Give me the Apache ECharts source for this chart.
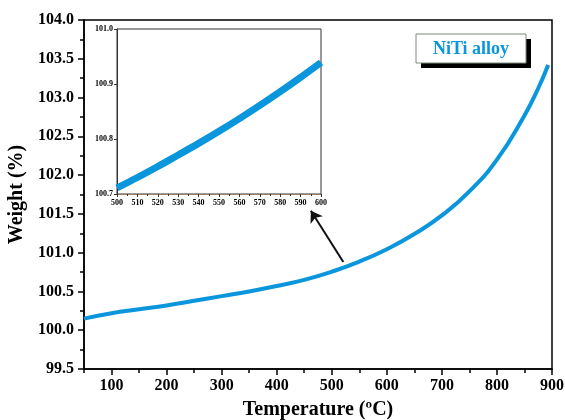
<!DOCTYPE html>
<html lang="en">
<head>
    <meta charset="UTF-8">
    <title>NiTi alloy TGA</title>
    <script src="https://cdn.jsdelivr.net/npm/echarts@6/dist/echarts.min.js"></script>
</head>
<body style="margin:0;">
<div id="tga" style="width: 565px;height: 420px;"></div>
<script>
    // main curve
    var temps = [50, 100, 150, 200, 250, 300, 350, 400, 450, 500, 550, 600, 650, 700, 750, 800, 850, 875, 893];
    var weights = [100.15, 100.22, 100.27, 100.32, 100.38, 100.44, 100.50, 100.57, 100.65, 100.755, 100.885, 101.045, 101.24, 101.48, 101.79, 102.20, 102.77, 103.12, 103.42];
    // inset (zoom of 500-600 ºC)
    var insetTemps = [500, 510, 520, 530, 540, 550, 560, 570, 580, 590, 600];
    var insetWeights = [100.711, 100.730, 100.750, 100.771, 100.792, 100.814, 100.837, 100.861, 100.886, 100.912, 100.939];
    var xLabels = [100, 200, 300, 400, 500, 600, 700, 800, 900];
    var xMinorTicks = [50, 150, 250, 350, 450, 550, 650, 750, 850];
    // arrow from curve to inset [temp, weight]
    var arrowFrom = [521, 100.88];
    var arrowTo = [462, 101.54];

    var serif = '"Liberation Serif", "Times New Roman", serif';
    var blue = '#0a96dc';

    function pairs(xs, ys) {
        return xs.map(function (x, i) { return [x, ys[i]]; });
    }

    var myChart = echarts.init(document.getElementById('tga'));
    var option = {
        backgroundColor: '#fff',
        animation: false,
        // "NiTi alloy" label box with hard black shadow
        graphic: [{
            type: 'rect',
            shape: { x: 421, y: 39, width: 110, height: 29 },
            style: { fill: '#000' },
            z: 10
        }, {
            type: 'rect',
            shape: { x: 416, y: 34, width: 110, height: 29 },
            style: { fill: '#fff', stroke: '#7a8a7a', lineWidth: 1 },
            z: 11
        }, {
            type: 'text',
            x: 471, y: 49,
            style: {
                text: 'NiTi alloy',
                fill: blue,
                font: 'bold 18px ' + serif,
                align: 'center',
                verticalAlign: 'middle'
            },
            z: 12
        }],
        grid: [{
            left: 84, top: 20, right: 13, bottom: 51,
            outerBoundsMode: 'none',
            show: true, borderColor: '#000', borderWidth: 1.5
        }, {
            left: 117, top: 29, width: 204, height: 165,
            outerBoundsMode: 'none',
            show: true, backgroundColor: '#fff', borderColor: '#333', borderWidth: 1
        }],
        xAxis: [{
            gridIndex: 0,
            type: 'value',
            min: 50, max: 900,
            name: 'Temperature (ºC)',
            nameLocation: 'middle',
            nameGap: 31,
            nameTextStyle: { fontFamily: serif, fontWeight: 'bold', fontSize: 20, color: '#000' },
            axisLine: { lineStyle: { color: '#000', width: 1.5 } },
            axisTick: { customValues: xLabels, length: 6, lineStyle: { color: '#000', width: 1.5 } },
            axisLabel: {
                customValues: xLabels,
                margin: 9,
                fontFamily: serif, fontWeight: 'bold', fontSize: 16, color: '#000'
            },
            splitLine: { show: false }
        }, {
            // minor ticks of the main x axis
            gridIndex: 0,
            type: 'value',
            min: 50, max: 900,
            position: 'bottom',
            axisLine: { show: false },
            axisTick: { customValues: xMinorTicks, length: 4, lineStyle: { color: '#000', width: 1.5 } },
            axisLabel: { show: false },
            splitLine: { show: false }
        }, {
            gridIndex: 1,
            type: 'value',
            min: 500, max: 600, interval: 10,
            axisLine: { lineStyle: { color: '#a07e62', width: 1 } },
            axisTick: { length: 3, lineStyle: { color: '#333' } },
            minorTick: { show: true, splitNumber: 2, length: 2, lineStyle: { color: '#333' } },
            axisLabel: {
                margin: 5,
                fontFamily: serif, fontWeight: 'bold', fontSize: 8, color: '#000'
            },
            splitLine: { show: false }
        }],
        yAxis: [{
            gridIndex: 0,
            type: 'value',
            min: 99.5, max: 104, interval: 0.5,
            name: 'Weight (%)',
            nameLocation: 'middle',
            nameGap: 55,
            nameTextStyle: { fontFamily: serif, fontWeight: 'bold', fontSize: 20, color: '#000' },
            axisLine: { lineStyle: { color: '#000', width: 1.5 } },
            axisTick: { length: 6, lineStyle: { color: '#000', width: 1.5 } },
            minorTick: { show: true, splitNumber: 2, length: 4, lineStyle: { color: '#000', width: 1.5 } },
            axisLabel: {
                margin: 10,
                formatter: function (v) { return v.toFixed(1); },
                fontFamily: serif, fontWeight: 'bold', fontSize: 16, color: '#000'
            },
            splitLine: { show: false }
        }, {
            gridIndex: 1,
            type: 'value',
            min: 100.7, max: 101.0, interval: 0.1,
            axisLine: { lineStyle: { color: '#333', width: 1 } },
            axisTick: { length: 3, lineStyle: { color: '#333' } },
            axisLabel: {
                margin: 4,
                formatter: function (v) { return v.toFixed(1); },
                fontFamily: serif, fontWeight: 'bold', fontSize: 8, color: '#000'
            },
            splitLine: { show: false }
        }],
        series: [{
            name: 'NiTi alloy',
            type: 'line',
            xAxisIndex: 0,
            yAxisIndex: 0,
            smooth: 0.5,
            symbol: 'none',
            lineStyle: { color: blue, width: 4 },
            itemStyle: { color: blue },
            data: pairs(temps, weights),
            markLine: {
                silent: true,
                symbol: ['none', 'arrow'],
                symbolSize: 11,
                label: { show: false },
                lineStyle: { color: '#111', width: 2, type: 'solid' },
                data: [[{ coord: arrowFrom }, { coord: arrowTo }]]
            }
        }, {
            name: 'inset',
            type: 'line',
            xAxisIndex: 2,
            yAxisIndex: 1,
            smooth: 0.3,
            symbol: 'none',
            lineStyle: { color: blue, width: 7 },
            data: pairs(insetTemps, insetWeights)
        }]
    };
    myChart.setOption(option);
</script>
</body>
</html>
